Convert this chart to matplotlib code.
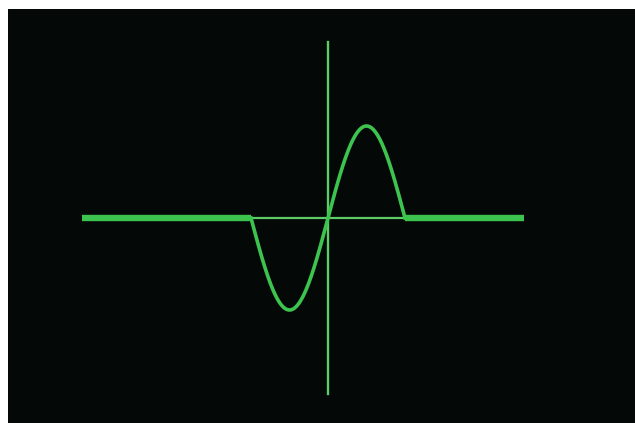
import numpy as np
import matplotlib
matplotlib.use("Agg")
import matplotlib.pyplot as plt

# Values (phase in radians, amplitude units)
amplitude = 1.0
period_start = -np.pi
period_end = np.pi
baseline_left = -10.04
baseline_right = 8.0
vertical_axis_top = 1.91
vertical_axis_bottom = -1.91
n_samples = 400

green = "#3cc44f"
green_thin = "#5ccb68"
bg = "#040806"

fig = plt.figure(figsize=(6.35, 4.23), dpi=100, facecolor="white")
ax = fig.add_axes([8 / 635, 0, (635 - 8) / 635, (423 - 9) / 423])
ax.set_facecolor(bg)
for s in ax.spines.values():
    s.set_visible(False)
ax.set_xticks([])
ax.set_yticks([])

px_per_rad = 77 / np.pi
px_per_amp = 92
ax.set_xlim((8 - 328) / px_per_rad, (635 - 328) / px_per_rad)
ax.set_ylim((218 - 423) / px_per_amp, (218 - 9) / px_per_amp)

# thick baseline outside the period
ax.plot([baseline_left, period_start], [0, 0], color=green, lw=4.6, solid_capstyle="butt")
ax.plot([period_end, baseline_right], [0, 0], color=green, lw=4.6, solid_capstyle="butt")
# thin axis inside
ax.plot([period_start, period_end], [0, 0], color=green_thin, lw=1.6)
# vertical axis
ax.plot([0, 0], [vertical_axis_bottom, vertical_axis_top], color=green_thin, lw=1.7)
# one sine period
t = np.linspace(period_start, period_end, n_samples)
ax.plot(t, amplitude * np.sin(t), color=green, lw=2.6)

fig.savefig("out.png", dpi=100, facecolor="white")
